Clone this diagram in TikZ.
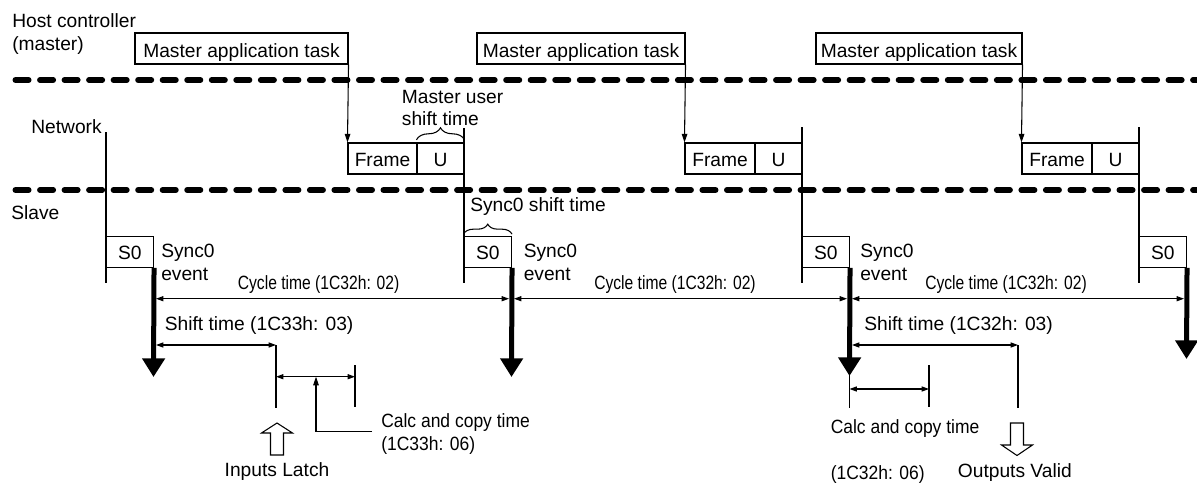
\documentclass[tikz,border=0pt]{standalone}
\usepackage{fontspec}
\setmainfont{Liberation Sans}
\usepackage{graphicx}
\usetikzlibrary{arrows.meta,decorations.pathreplacing}
\tikzset{
  lbl/.style={inner sep=0pt, font=\fontsize{14.4}{17}\selectfont},
  box/.style={draw, line width=0.8pt, inner sep=0pt, font=\fontsize{14.4}{17}\selectfont, text depth=0pt},
  taskbox/.style={box, minimum height=0.75pt*31, text height=13.2pt},
  framebox/.style={box, minimum height=0.75pt*31, text height=11.25pt},
  sbox/.style={box, minimum height=0.75pt*30.6, minimum width=0.75pt*47.5, text height=10.5pt},
  sepline/.style={line width=4.3pt, dash pattern=on 9.95pt off 8.45pt, line cap=round},
  ln/.style={line width=0.8pt},
  dimln/.style={line width=0.8pt, {Triangle[length=5.5pt,width=3.8pt]}-{Triangle[length=5.5pt,width=3.8pt]}},
  tipto/.style={line width=0.8pt, -{Triangle[length=6.5pt,width=4.2pt]}},
  bigarrow/.style={line width=3.75pt, -{Triangle[length=14pt,width=16.5pt]}},
  hollow/.style={draw, line width=0.8pt, fill=white, line join=miter},
  brc/.style={decorate, line width=0.8pt},
}
\begin{document}
\begin{tikzpicture}[x=0.75pt,y=-0.75pt]
\useasboundingbox (0,0) rectangle (1197,486);

% separators
\coordinate (d1a) at (15.4,80); \coordinate (d1b) at (1210,80);
\coordinate (d2a) at (15.4,190); \coordinate (d2b) at (1210,190);
\draw[sepline] (d1a) -- (d1b);
\draw[sepline] (d2a) -- (d2b);

% lane labels
\node[lbl, anchor=base west] (host) at (12,27.3) {Host controller};
\node[lbl, anchor=base west] (master) at (12,50.7) {(master)};
\node[lbl, anchor=base east] (net) at (102,133.3) {Network};
\node[lbl, anchor=base west] (slave) at (11,219.3) {Slave};

% master tasks
\node[taskbox, minimum width=0.75pt*213] (t1) at (241.5,48.5) {Master application task};
\node[taskbox, minimum width=0.75pt*208] (t2) at (581,48.5) {Master application task};
\node[taskbox, minimum width=0.75pt*206] (t3) at (919,48.5) {Master application task};

% frames
\node[framebox, minimum width=0.75pt*69] (f1) at (382.5,158.5) {Frame};
\node[framebox, minimum width=0.75pt*47] (u1) at (440.5,158.5) {U};
\node[framebox, minimum width=0.75pt*70] (f2) at (720,158.5) {Frame};
\node[framebox, minimum width=0.75pt*47] (u2) at (778.5,158.5) {U};
\node[framebox, minimum width=0.75pt*70] (f3) at (1057,158.5) {Frame};
\node[framebox, minimum width=0.75pt*47] (u3) at (1115.5,158.5) {U};

\draw[tipto] (t1.south east) -- (f1.north west);
\draw[tipto] (t2.south east) -- (f2.north west);
\draw[tipto] (t3.south east) -- (f3.north west);

% S0 boxes
\node[sbox] (s1) at (129.75,252) {S0};
\node[sbox] (s2) at (487.75,252) {S0};
\node[sbox] (s3) at (825.75,252) {S0};
\node[sbox] (s4) at (1162.75,252) {S0};

% vertical sync lines
\coordinate (v1a) at (106,132);  \coordinate (v1b) at (106,283);
\coordinate (v2a) at (464,128);  \coordinate (v2b) at (464,283);
\coordinate (v3a) at (802,127);  \coordinate (v3b) at (802,283);
\coordinate (v4a) at (1139,127); \coordinate (v4b) at (1139,283);
\draw[ln] (v1a) -- (v1b);
\draw[ln] (v2a) -- (v2b);
\draw[ln] (v3a) -- (v3b);
\draw[ln] (v4a) -- (v4b);

% braces
\draw[brc, decoration={brace, amplitude=9pt, raise=2pt}] (u1.north west) -- (u1.north east);
\node[lbl, anchor=base west] (mus1) at (401.7,103.3) {Master user};
\node[lbl, anchor=base west] (mus2) at (401.7,125) {shift time};
\draw[brc, decoration={brace, amplitude=7.5pt, raise=1.5pt}] (s2.north west) -- (s2.north east);
\node[lbl, anchor=base west] (sst) at (470,211.7) {Sync0 shift time};

% Sync0 event labels
\node[lbl, anchor=base west] (se1a) at (161,257.3) {Sync0};
\node[lbl, anchor=base west] (se1b) at (161,280) {event};
\node[lbl, anchor=base west] (se2a) at (523.5,257.3) {Sync0};
\node[lbl, anchor=base west] (se2b) at (523.5,280) {event};
\node[lbl, anchor=base west] (se3a) at (860,257.3) {Sync0};
\node[lbl, anchor=base west] (se3b) at (860,280) {event};

% thick event arrows
\coordinate (a1) at (153.5,377);
\coordinate (a2) at (511.5,377);
\coordinate (a3) at (849.5,376);
\coordinate (a4) at (1186.5,359);
\draw[bigarrow] (s1.south east) -- (a1);
\draw[bigarrow] (s2.south east) -- (a2);
\draw[bigarrow] (s3.south east) -- (a3);
\draw[bigarrow] (s4.south east) -- (a4);

% cycle times
\coordinate (c1a) at (156,298.7); \coordinate (c1b) at (509,298.7);
\coordinate (c2a) at (514,298.7); \coordinate (c2b) at (847,298.7);
\coordinate (c3a) at (852,298.7); \coordinate (c3b) at (1184,298.7);
\draw[dimln] (c1a) -- (c1b);
\draw[dimln] (c2a) -- (c2b);
\draw[dimln] (c3a) -- (c3b);
\node[lbl, anchor=base] (cy1) at (318.6,289.3) {\scalebox{0.815}[1]{Cycle time (1C32h: 02)}};
\node[lbl, anchor=base] (cy2) at (675,289.3) {\scalebox{0.815}[1]{Cycle time (1C32h: 02)}};
\node[lbl, anchor=base] (cy3) at (1006,289.3) {\scalebox{0.815}[1]{Cycle time (1C32h: 02)}};

% input side
\node[lbl, anchor=base west] (sh1) at (164.6,330.7) {Shift time (1C33h: 03)};
\coordinate (sh1a) at (156,345); \coordinate (sh1b) at (276,345);
\draw[dimln] (sh1a) -- (sh1b);
\coordinate (l1bot) at (276,408);
\draw[ln] (sh1b) -- (l1bot);
\coordinate (ca1a) at (276,376.7); \coordinate (ca1b) at (355,376.7);
\draw[dimln] (ca1a) -- (ca1b);
\coordinate (k1a) at (355,365); \coordinate (k1b) at (355,406.7);
\draw[ln] (k1a) -- (k1b);
\coordinate (ld1) at (372,431.7); \coordinate (ld1c) at (316,431.7); \coordinate (ld1t) at (316,376.7);
\draw[tipto] (ld1) -- (ld1c) -- (ld1t);
\node[lbl, anchor=base west] (cc1a) at (381,427.3) {\scalebox{0.91}[1]{Calc and copy time}};
\node[lbl, anchor=base west] (cc1b) at (381,450.7) {\scalebox{0.91}[1]{(1C33h: 06)}};
\draw[hollow] (277,423) -- (292.5,433) -- (283.5,433) -- (283.5,455) -- (270.5,455) -- (270.5,433) -- (261.5,433) -- cycle;
\node[lbl, anchor=base] (inl) at (277,476.7) {Inputs Latch};

% output side
\node[lbl, anchor=base west] (sh2) at (864,330.7) {Shift time (1C32h: 03)};
\coordinate (sh2a) at (852,345); \coordinate (sh2b) at (1018,345);
\draw[dimln] (sh2a) -- (sh2b);
\coordinate (l2bot) at (1018,408);
\draw[ln] (sh2b) -- (l2bot);
\coordinate (l3top) at (849.5,375); \coordinate (l3bot) at (849.5,408);
\draw[ln] (l3top) -- (l3bot);
\coordinate (ca2a) at (849.5,389); \coordinate (ca2b) at (929,389);
\draw[dimln] (ca2a) -- (ca2b);
\coordinate (k2a) at (929,365); \coordinate (k2b) at (929,407);
\draw[ln] (k2a) -- (k2b);
\node[lbl, anchor=base west] (cc2a) at (830.5,433.3) {\scalebox{0.91}[1]{Calc and copy time}};
\node[lbl, anchor=base west] (cc2b) at (830.5,479) {\scalebox{0.91}[1]{(1C32h: 06)}};
\draw[hollow] (1010.5,423) -- (1023.5,423) -- (1023.5,445) -- (1032.5,445) -- (1017,455.5) -- (1001.5,445) -- (1010.5,445) -- cycle;
\node[lbl, anchor=base] (outv) at (1014.8,477.3) {Outputs Valid};
\end{tikzpicture}
\end{document}
